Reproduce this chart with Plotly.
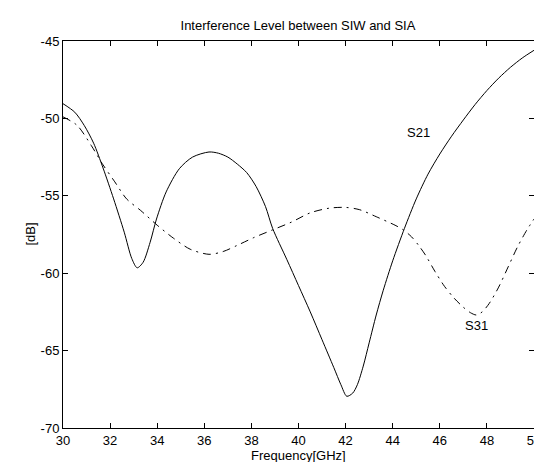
import plotly.graph_objects as go

# ---- data ----
s21_freq = [30, 30.5, 30.9, 31.3, 31.7, 32.15, 32.6, 32.92, 33.15, 33.4, 33.7, 33.97, 34.38,
            34.94, 35.5, 36.2, 36.6, 37.0, 37.4, 37.8, 38.2, 38.6, 38.9, 39.5, 40.0, 40.5,
            41.0, 41.5, 41.8, 42.05, 42.3, 42.5, 42.75, 43.0, 43.3, 43.6, 44.0, 44.5, 45.0,
            45.5, 46.0, 46.5, 47.0, 47.5, 48.0, 48.5, 49.0, 49.5, 50.0]
s21_db = [-49.05, -49.6, -50.45, -51.6, -53.2, -55.2, -57.35, -59.05, -59.65, -59.3, -58.0,
          -56.5, -54.75, -53.25, -52.5, -52.17, -52.25, -52.5, -52.95, -53.5, -54.4, -55.7,
          -57.1, -59.1, -60.8, -62.5, -64.3, -66.1, -67.2, -67.95, -67.75, -67.2, -66.0,
          -64.5, -62.7, -61.1, -59.2, -57.1, -55.2, -53.6, -52.3, -51.15, -50.1, -49.1,
          -48.2, -47.4, -46.7, -46.1, -45.6]

s31_freq = [30, 30.6, 31.2, 31.7, 32.2, 32.7, 33.3, 34.0, 34.7, 35.4, 36.2, 36.8, 37.4, 38.1,
            38.9, 39.7, 40.5, 41.3, 42.0, 42.6, 43.3, 44.1, 44.45, 44.8, 45.1, 45.4, 45.8,
            46.2, 46.6, 47.0, 47.3, 47.55, 47.8, 48.1, 48.5, 48.9, 49.3, 49.7, 50.0]
s31_db = [-49.9, -50.45, -51.75, -53.0, -54.1, -55.2, -55.95, -56.9, -57.75, -58.45, -58.78,
          -58.6, -58.2, -57.7, -57.2, -56.7, -56.1, -55.8, -55.75, -55.9, -56.35, -56.9,
          -57.2, -57.65, -58.2, -58.85, -59.9, -60.85, -61.6, -62.2, -62.55, -62.7, -62.5,
          -61.95, -60.9, -59.6, -58.3, -57.2, -56.5]

x_ticks = [30, 32, 34, 36, 38, 40, 42, 44, 46, 48, 50]
y_ticks = [-70, -65, -60, -55, -50, -45]

labels = ["S21", "S31"]
label_freq = [45.1, 47.55]
label_db = [-50.9, -63.4]

title_text = "Interference Level between SIW and SIA"
x_title = "Frequency[GHz]"
y_title = "[dB]"

FONT = "Liberation Sans, Arial, Helvetica, sans-serif"
FS = 13

fig = go.Figure()
fig.add_trace(go.Scatter(x=s21_freq, y=s21_db, mode="lines", name="S21",
                         line=dict(color="black", width=1, shape="spline", smoothing=0.8)))
fig.add_trace(go.Scatter(x=s31_freq, y=s31_db, mode="lines", name="S31",
                         line=dict(color="black", width=1, shape="spline", smoothing=0.8,
                                   dash="8px,5px,2px,5px")))

for t, fx, fy in zip(labels, label_freq, label_db):
    fig.add_annotation(x=fx, y=fy, text=t, showarrow=False,
                       font=dict(family=FONT, size=FS, color="black"))

fig.add_annotation(xref="paper", yref="paper", x=0.5, y=0, yanchor="middle",
                   yshift=-27, text=x_title, showarrow=False,
                   font=dict(family=FONT, size=FS, color="black"))
fig.add_annotation(xref="paper", yref="paper", x=0, y=0.5, xanchor="center",
                   xshift=-33, textangle=-90, text=y_title, showarrow=False,
                   font=dict(family=FONT, size=FS, color="black"))

axis_common = dict(showgrid=False, zeroline=False, showline=True, linecolor="black",
                   linewidth=1, mirror="ticks", ticks="inside", ticklen=5,
                   tickcolor="black", tickfont=dict(family=FONT, size=FS, color="black"))

fig.update_xaxes(range=[30, 50], tickvals=x_ticks, ticktext=[str(v) for v in x_ticks],
                 **axis_common)
fig.update_yaxes(range=[-70, -45], tickvals=y_ticks, ticktext=[str(v) for v in y_ticks],
                 **axis_common)

fig.update_layout(
    width=542, height=462,
    margin=dict(l=55, r=9, t=33, b=42),
    paper_bgcolor="white", plot_bgcolor="white",
    showlegend=False,
    title=dict(text=title_text, x=0.535, xanchor="center", y=1 - 17 / 462, yanchor="middle",
               font=dict(family=FONT, size=FS, color="black")),
)

fig.write_html("out.html")
